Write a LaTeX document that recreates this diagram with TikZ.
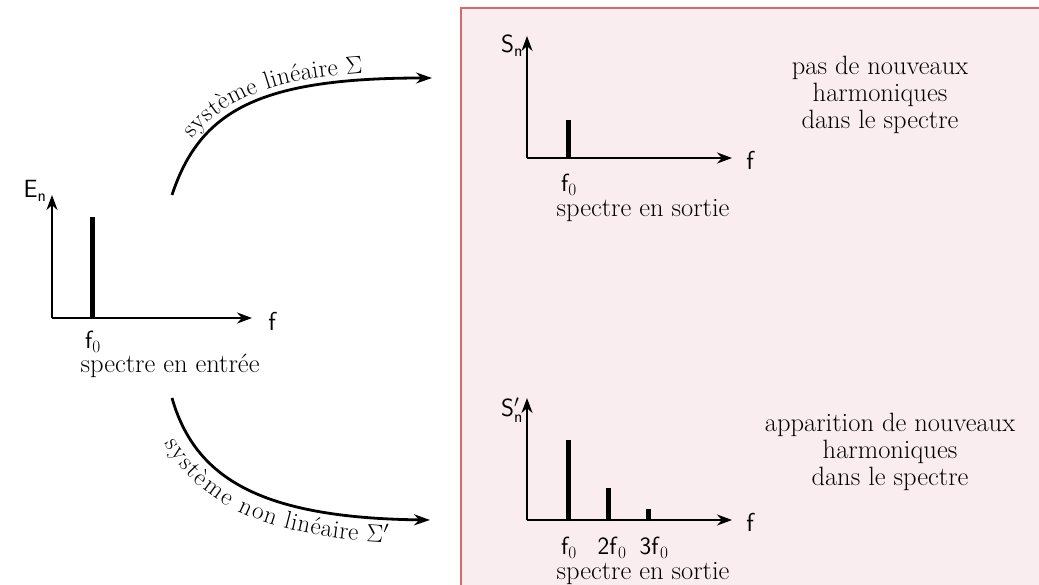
\documentclass[tikz,border=0pt]{standalone}
\usetikzlibrary{arrows.meta,decorations.text}
\definecolor{boxfill}{HTML}{F9EDEF}
\definecolor{boxline}{HTML}{D36B6B}
\begin{document}
\begin{tikzpicture}[x=1pt,y=-1pt,
  axis/.style={line width=2.6pt,-{Stealth[length=15pt,width=11pt]}},
  spike/.style={line width=5pt},
  flow/.style={line width=2.8pt,-{Stealth[length=16pt,width=11pt]}},
  lbl/.style={font=\sffamily\fontsize{26}{30}\selectfont, inner sep=0pt},
  txt/.style={font=\fontsize{26.5}{27}\selectfont, align=center, inner sep=0pt}]
\useasboundingbox (0,0) rectangle (1039,585);
% box
\draw[fill=boxfill, draw=boxline, line width=1.6pt] (461,8) rectangle (1050,600);

% left graph
\coordinate (o1) at (52,318);
\coordinate (y1) at (52,195);
\coordinate (x1) at (252,318);
\draw[axis] (o1) -- (y1);
\draw[axis] (o1) -- (x1);
\coordinate (s1b) at (92,318); \coordinate (s1t) at (92,217);
\draw[spike] (s1b) -- (s1t);
\node[lbl] (En) at (35,191) {$\mathsf{E}_{\mathsf{n}}$};
\node[lbl] (f1) at (272,321) {f};
\node[lbl] (f01) at (93,342) {$\mathsf{f}_0$};
\node[txt] (in) at (170,366) {spectre en entrée};

% top graph
\coordinate (o2) at (527,158);
\coordinate (y2) at (527,36);
\coordinate (x2) at (732,158);
\draw[axis] (o2) -- (y2);
\draw[axis] (o2) -- (x2);
\coordinate (s2b) at (568,158); \coordinate (s2t) at (568,120);
\draw[spike] (s2b) -- (s2t);
\node[lbl] (Sn) at (512,46) {$\mathsf{S}_{\mathsf{n}}$};
\node[lbl] (f2) at (750,160) {f};
\node[lbl] (f02) at (569,185) {$\mathsf{f}_0$};
\node[txt] (out1) at (643,211) {spectre en sortie};
\node[txt] (c1) at (880,95) {pas de nouveaux\\harmoniques\\dans le spectre};

% bottom graph
\coordinate (o3) at (527,520);
\coordinate (y3) at (527,398);
\coordinate (x3) at (732,520);
\draw[axis] (o3) -- (y3);
\draw[axis] (o3) -- (x3);
\coordinate (s3b) at (568,520); \coordinate (s3t) at (568,440);
\coordinate (s4b) at (608,520); \coordinate (s4t) at (608,488);
\coordinate (s5b) at (648,520); \coordinate (s5t) at (648,509);
\draw[spike] (s3b) -- (s3t);
\draw[spike] (s4b) -- (s4t);
\draw[spike] (s5b) -- (s5t);
\node[lbl] (Snp) at (512,410) {$\mathsf{S}'_{\mathsf{n}}$};
\node[lbl] (f3) at (750,522) {f};
\node[lbl] (f03) at (569,548) {$\mathsf{f}_0$};
\node[lbl] (f04) at (612,548) {$\mathsf{2f}_0$};
\node[lbl] (f05) at (654,548) {$\mathsf{3f}_0$};
\node[txt] (out2) at (643,574) {spectre en sortie};
\node[txt] (c2) at (890,452) {apparition de nouveaux\\harmoniques\\dans le spectre};

% flows
\coordinate (a1) at (172,195); \coordinate (a2) at (432,78);
\draw[flow] (a1) .. controls (200,110) and (260,78) .. (a2);
\path[decorate, decoration={text along path, raise=7pt,
  text align={left indent=58pt},
  text={|\fontsize{25}{28}\selectfont|syst{è}me lin{é}aire {$\Sigma$}}}]
  (a1) .. controls (200,110) and (260,78) .. (a2);

\coordinate (b1) at (172,398); \coordinate (b2) at (430,520);
\draw[flow] (b1) .. controls (195,478) and (260,518) .. (b2);
\path[decorate, decoration={text along path, raise=-24pt,
  text align={left indent=36pt},
  text={|\fontsize{25}{28}\selectfont|syst{è}me non lin{é}aire {$\Sigma'$}}}]
  (b1) .. controls (195,478) and (260,518) .. (b2);
\end{tikzpicture}
\end{document}
